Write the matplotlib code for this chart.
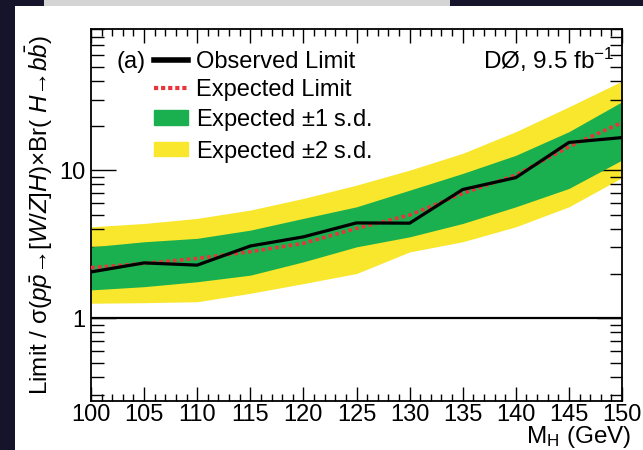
import matplotlib
matplotlib.use("Agg")
import matplotlib.pyplot as plt
from matplotlib.lines import Line2D
from matplotlib.patches import Patch, Rectangle
from matplotlib.ticker import LogLocator, FixedLocator, MultipleLocator, NullFormatter, FuncFormatter

plt.rcParams['font.family'] = ['Liberation Sans', 'DejaVu Sans']
plt.rcParams['mathtext.fontset'] = 'custom'
plt.rcParams['mathtext.rm'] = 'Liberation Sans'
plt.rcParams['mathtext.it'] = 'Liberation Sans:italic'
plt.rcParams['mathtext.bf'] = 'Liberation Sans:bold'

# Higgs mass points (GeV)
mass = [100, 105, 110, 115, 120, 125, 130, 135, 140, 145, 150]
# Ratio of the 95% C.L. limit to the SM prediction
observed = [2.05, 2.36, 2.28, 3.07, 3.54, 4.40, 4.38, 7.40, 8.90, 15.4, 16.6]
expected = [2.19, 2.34, 2.53, 2.81, 3.20, 4.04, 4.97, 6.96, 9.25, 14.4, 21.0]
band1_lo = [1.55, 1.63, 1.76, 1.95, 2.40, 3.03, 3.54, 4.36, 5.65, 7.52, 11.7]
band1_hi = [3.03, 3.28, 3.46, 3.93, 4.72, 5.65, 7.32, 9.50, 12.6, 18.2, 29.0]
band2_lo = [1.26, 1.27, 1.29, 1.47, 1.71, 2.00, 2.80, 3.28, 4.14, 5.65, 8.9]
band2_hi = [4.14, 4.36, 4.72, 5.37, 6.44, 7.92, 10.0, 13.0, 18.2, 26.8, 40.0]

legend_labels = ["Observed Limit", "Expected Limit",
                 r"Expected $\pm$1 s.d.", r"Expected $\pm$2 s.d."]

GREEN = "#1bb04f"
YELLOW = "#f8e72c"
RED = "#e8343a"

W, H = 643, 450
fig = plt.figure(figsize=(W / 100, H / 100), dpi=100)
fig.patch.set_facecolor("#16142a")

# white page and the light strip above it
fig.patches.append(Rectangle((15 / W, 0), 1 - 15 / W, 1 - 6 / H,
                             transform=fig.transFigure, facecolor="white",
                             edgecolor="none", zorder=-10))
fig.patches.append(Rectangle((44 / W, 1 - 6 / H), (450 - 44) / W, 6 / H,
                             transform=fig.transFigure, facecolor="#d4d4d4",
                             edgecolor="none", zorder=-10))

ax = fig.add_axes([91 / W, 1 - 401 / H, (622 - 91) / W, (401 - 29) / H])
ax.set_zorder(5)
ax.set_facecolor("white")

ax.fill_between(mass, band2_lo, band2_hi, color=YELLOW, lw=0, zorder=1)
ax.fill_between(mass, band1_lo, band1_hi, color=GREEN, lw=0, zorder=2)
ax.plot(mass, expected, color=RED, lw=2.6, ls=(0, (1.0, 0.9)), zorder=3)
ax.plot(mass, observed, color="black", lw=2.3, zorder=4)
ax.axhline(1.0, color="black", lw=1.6, zorder=5)

ax.set_yscale("log")
ax.set_xlim(100, 150)
ax.set_ylim(0.275, 90)

ax.xaxis.set_major_locator(MultipleLocator(5))
ax.xaxis.set_minor_locator(MultipleLocator(1))
ax.yaxis.set_major_locator(FixedLocator([1, 10]))
ax.yaxis.set_minor_locator(LogLocator(base=10, subs=range(2, 10)))
ax.yaxis.set_major_formatter(FuncFormatter(lambda v, p: f"{v:g}"))
ax.yaxis.set_minor_formatter(NullFormatter())

ax.tick_params(which="both", direction="in", top=True, right=True,
               colors="black", labelsize=17, width=1.0)
ax.tick_params(axis="x", which="major", length=10, pad=2)
ax.tick_params(axis="x", which="minor", length=5)
ax.tick_params(axis="y", which="major", length=18, pad=4)
ax.tick_params(axis="y", which="minor", length=9)
for s in ax.spines.values():
    s.set_linewidth(1.3)
    s.set_color("black")

ax.set_xlabel(r"M$_{\rm H}$ (GeV)", fontsize=17.5, loc="right")
ax.xaxis.set_label_coords((631 - 91) / 531, (401 - 424) / 372)
ax.set_ylabel(r"Limit / σ($p\bar{p}$→[$W/Z$]$H$)×Br( $H$→$b\bar{b}$)",
              fontsize=17.5, loc="center")
ax.yaxis.set_label_coords((55 - 91) / 531, 0.5)

handles = [Line2D([], [], color="black", lw=4),
           Line2D([], [], color=RED, lw=3, ls=(0, (1.0, 0.7))),
           Patch(facecolor=GREEN, edgecolor=GREEN),
           Patch(facecolor=YELLOW, edgecolor=YELLOW)]
ax.legend(handles, legend_labels, loc="upper left",
          bbox_to_anchor=(154 / W, 1 - 51 / H), bbox_transform=fig.transFigure,
          frameon=False, fontsize=17, handlelength=1.45, handleheight=0.55,
          handletextpad=0.35, labelspacing=0.25, borderpad=0, borderaxespad=0)

ax.text(117 / W, 1 - 62 / H, "(a)", transform=fig.transFigure,
        fontsize=17, va="center", ha="left")
ax.text(614 / W, 1 - 60 / H, r"DØ, 9.5 fb$^{\mathregular{-1}}$",
        transform=fig.transFigure, fontsize=17.5, va="center", ha="right")

fig.savefig("out.png", dpi=100, facecolor=fig.get_facecolor())
